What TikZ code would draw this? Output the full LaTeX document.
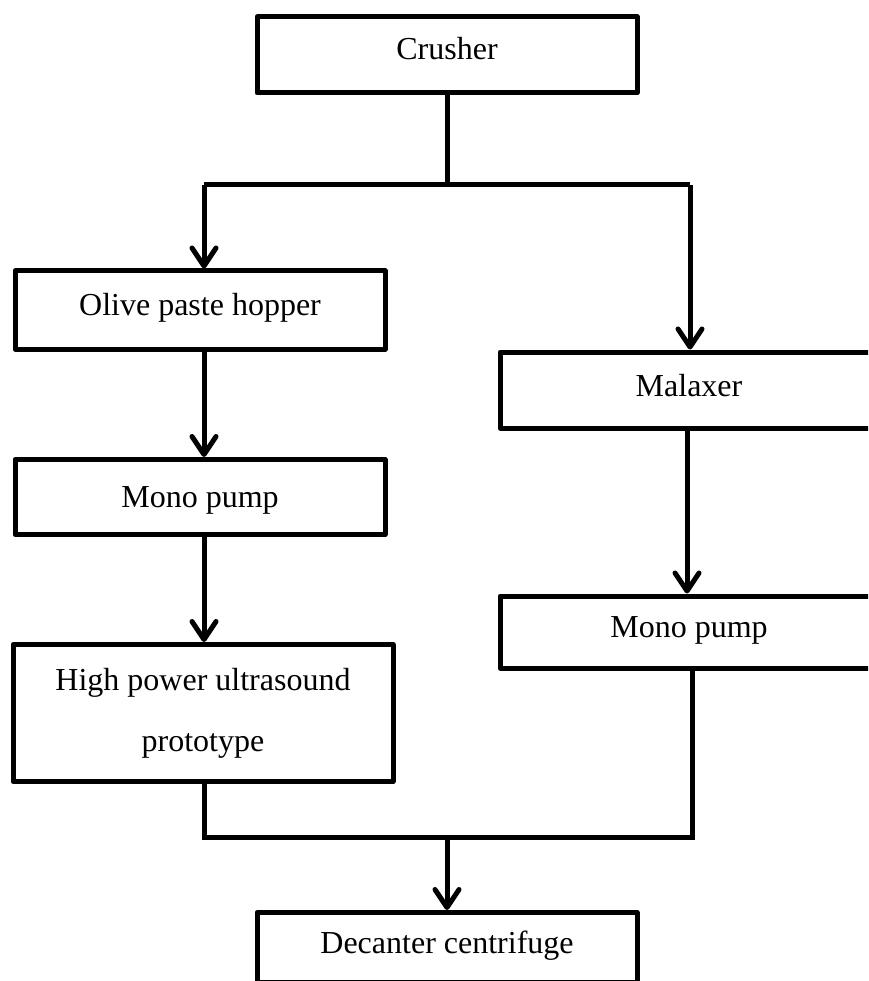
\documentclass[tikz,border=0pt]{standalone}
\usepackage{fontspec}
\setmainfont{Liberation Serif}
\usetikzlibrary{arrows.meta}
\begin{document}
\begin{tikzpicture}[x=1pt,y=-1pt,
  box/.style={draw, line width=5pt, rectangle, inner sep=0pt, align=center,
    font=\fontsize{32}{61}\selectfont, line join=round, text height=22pt},
  conn/.style={line width=5pt, line join=miter},
  arr/.style={conn, -{Straight Barb[length=18pt,width=24pt,line cap=round,line join=round]}}]
\useasboundingbox (0,0) rectangle (868,981);
\clip (0,0) rectangle (868,981);
\fill[white] (0,0) rectangle (868,981);
% boxes
\node[box, minimum width=380pt, minimum height=76pt, text depth=12pt] (crusher) at (447,55) {Crusher};
\node[box, minimum width=370pt, minimum height=78pt, text depth=11pt] (olive) at (200,310) {Olive paste hopper};
\node[box, minimum width=370pt, minimum height=75pt, text depth=1pt] (mono1) at (200,497) {Mono pump};
\node[box, minimum width=380pt, minimum height=137pt, text height=, text depth=] (hp) at (203,713) {High power ultrasound\\prototype};
\node[box, minimum width=378pt, minimum height=76pt, text depth=10pt] (malaxer) at (689,390) {Malaxer};
\node[box, minimum width=378pt, minimum height=72pt, text depth=11pt] (mono2) at (689,632) {Mono pump};
\node[box, minimum width=380pt, minimum height=70pt, text depth=11pt, anchor=north] (decanter) at (447,910) {Decanter centrifuge};
% junctions
\coordinate (jl) at (204,185);
\coordinate (jr) at (690,185);
\coordinate (bl) at (204,837);
\coordinate (br) at (692,837);
\coordinate (rm) at (687,0);
% top split
\draw[conn] (crusher.south) -- (crusher.south |- jl);
\draw[conn] (jl) -- (jr);
\draw[arr] (jl) -- (jl |- olive.north);
\draw[arr] (jr) -- (jr |- malaxer.north);
% left column
\draw[arr] (olive.south -| jl) -- (mono1.north -| jl);
\draw[arr] (mono1.south -| jl) -- (hp.north -| jl);
% right column
\draw[arr] (malaxer.south -| rm) -- (mono2.north -| rm);
% merge
\draw[conn] (hp.south -| bl) -- (bl) -- (br) -- (mono2.south -| br);
\draw[arr] (decanter.north |- bl) -- (decanter.north);
\end{tikzpicture}
\end{document}
